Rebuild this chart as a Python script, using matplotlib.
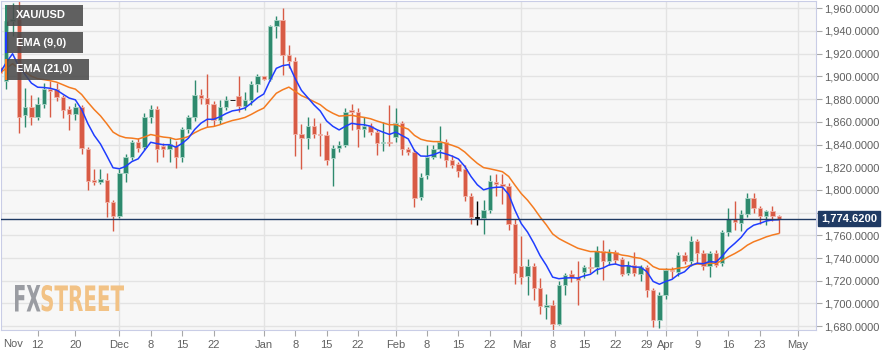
"""XAU/USD daily candles with EMA(9) and EMA(21), FXStreet style."""

import matplotlib

matplotlib.use("Agg")
import matplotlib.pyplot as plt
import pandas as pd
from matplotlib.font_manager import FontProperties
from matplotlib.patches import PathPatch, Rectangle
from matplotlib.textpath import TextPath
from matplotlib.transforms import Affine2D, blended_transform_factory

W, H = 887, 357

# daily OHLC, 2020-11-04 .. 2021-04-28 (Apr 2 not on the axis)
opens = [
    1908, 1896, 1949, 1951, 1866, 1873, 1864, 1876, 1889, 1889,
    1882, 1871, 1867, 1873, 1836, 1809, 1807, 1809, 1789, 1777,
    1815, 1829, 1842, 1838, 1864, 1871, 1839, 1836, 1839, 1829,
    1854, 1864, 1884, 1881, 1876, 1862, 1873, 1879, 1883, 1874,
    1879, 1893, 1900, 1898, 1944, 1950, 1919, 1914, 1849, 1846,
    1856, 1849, 1848, 1828, 1837, 1840, 1870, 1869, 1854, 1856,
    1851, 1841, 1842, 1847, 1859, 1836, 1833, 1794, 1813, 1829,
    1836, 1842, 1826, 1823, 1818, 1795, 1775.5, 1775, 1782, 1807,
    1805, 1803, 1770, 1733, 1724, 1733, 1714, 1697, 1699, 1682,
    1716, 1725.5, 1723, 1728, 1732.4, 1732, 1746, 1737, 1745, 1739,
    1727, 1734, 1726, 1732, 1712, 1685, 1707, 1729.5, 1728, 1743,
    1737.6, 1755, 1744, 1733, 1744.6, 1736, 1763, 1774, 1771, 1779,
    1793, 1784, 1777, 1781, 1777,
]
highs = [
    1946, 1951, 1965, 1966, 1890, 1884, 1882, 1894, 1896, 1894,
    1884, 1874, 1877, 1875, 1838, 1818, 1818, 1815, 1791, 1818,
    1832, 1844, 1846, 1868, 1875, 1874, 1841, 1847, 1843, 1855,
    1866, 1897, 1889, 1902, 1878, 1879, 1883, 1879, 1900, 1886,
    1896, 1902, 1900, 1945, 1953, 1960, 1928, 1917, 1858, 1864,
    1863, 1859, 1852, 1840, 1843, 1872, 1876, 1872, 1864, 1859,
    1853, 1860, 1875, 1872, 1861, 1838, 1836, 1815, 1840, 1840,
    1856, 1845, 1831, 1825, 1822, 1797, 1790, 1791, 1813, 1814,
    1814, 1806, 1774, 1759, 1739, 1736, 1722, 1708, 1703, 1720,
    1727, 1729, 1737, 1734, 1741, 1751, 1756, 1748, 1747, 1741,
    1737, 1745, 1734, 1734, 1714, 1710, 1731, 1732, 1745, 1745,
    1759, 1757, 1747, 1746, 1747, 1765, 1784, 1790, 1782, 1797.5,
    1797, 1786, 1782.5, 1786, 1777.5,
]
lows = [
    1881, 1889, 1936, 1850, 1855, 1857, 1862, 1872, 1864, 1878,
    1863, 1853, 1862, 1832, 1800, 1804, 1805, 1776, 1764, 1775,
    1807, 1826, 1833, 1835, 1859, 1825, 1829, 1825, 1819, 1825,
    1850, 1861, 1876, 1855, 1856, 1858, 1870, 1879, 1869, 1870,
    1875, 1886, 1897, 1896, 1934, 1901, 1907, 1830, 1818, 1836,
    1846, 1830, 1822, 1803, 1833, 1838, 1853, 1838, 1847, 1848,
    1831, 1834, 1839, 1842, 1831, 1831, 1785, 1791, 1810, 1827,
    1828, 1820, 1819, 1811, 1790, 1770, 1769, 1761, 1780, 1795,
    1788, 1765, 1717, 1717, 1707, 1703, 1691, 1686, 1677, 1681,
    1707, 1719, 1699, 1722, 1727, 1726, 1721, 1734, 1735, 1724,
    1725, 1724, 1720, 1706, 1679, 1678, 1704, 1722, 1724, 1735,
    1733, 1736, 1729, 1723, 1732, 1733, 1759, 1765, 1764, 1776,
    1780, 1770, 1769, 1773, 1762,
]
closes = [
    1903, 1949, 1951, 1864, 1873, 1864, 1876, 1889, 1887, 1882,
    1870, 1867, 1873, 1837, 1808, 1807, 1810, 1789, 1777, 1815,
    1829, 1842, 1837, 1864, 1871, 1836, 1836, 1840, 1829, 1854,
    1864, 1884, 1881, 1876, 1862, 1873, 1879, 1879, 1874, 1879,
    1893, 1900, 1898, 1944, 1950, 1919, 1914, 1849, 1846, 1856,
    1849, 1848, 1826, 1837, 1840, 1869, 1869, 1854, 1856, 1851,
    1841, 1842, 1841, 1859, 1836, 1833, 1793, 1811, 1829, 1836,
    1842, 1826, 1822, 1817, 1795, 1776, 1775.5, 1782, 1808, 1805,
    1803, 1770, 1727, 1723, 1733, 1714, 1698, 1699, 1682, 1716,
    1725, 1723.5, 1721, 1732, 1731, 1746, 1737, 1745, 1738, 1726,
    1734, 1727, 1732, 1712, 1685, 1707, 1729, 1728.5, 1742.6, 1737.6,
    1755, 1744, 1733, 1744.6, 1734, 1763, 1774, 1772, 1779, 1793,
    1784, 1777, 1781, 1777, 1774.62,
]
last_price = 1774.62

tick_dates = [
    "2020-11-12", "2020-11-20", "2020-12-01", "2020-12-08", "2020-12-15",
    "2020-12-22", "2021-01-01", "2021-01-08", "2021-01-15", "2021-01-22",
    "2021-02-01", "2021-02-08", "2021-02-15", "2021-02-22", "2021-03-01",
    "2021-03-08", "2021-03-15", "2021-03-22", "2021-03-29", "2021-04-01",
    "2021-04-09", "2021-04-16", "2021-04-23", "2021-05-03",
]
tick_labels = [
    "12", "20", "Dec", "8", "15", "22", "Jan", "8", "15", "22",
    "Feb", "8", "15", "22", "Mar", "8", "15", "22", "29", "Apr",
    "9", "16", "23", "May",
]
month_lines = ["2020-12-01", "2021-01-01", "2021-02-01", "2021-03-01",
               "2021-04-01", "2021-05-03"]
y_ticks = list(range(1680, 1961, 20))

GREEN = "#2e8a6e"
RED = "#d85b45"
BLUE = "#1f3dff"
ORANGE = "#f47b20"
NAVY = "#1f3a63"
GRID = "#e3e3e3"
FRAME = "#c9cde6"
TEXT = "#606060"


def fig_rect(fig, x0, y0, x1, y1, **kw):
    """Rectangle given in figure pixels (origin top-left)."""
    r = Rectangle((x0 / W, 1 - y1 / H), (x1 - x0) / W, (y1 - y0) / H,
                  transform=fig.transFigure, **kw)
    fig.add_artist(r)


def logo_part(ax, text, x0, x1, y_top, y_bot, color):
    fp = FontProperties(family="DejaVu Sans", weight="bold")
    tp = TextPath((0, 0), text, size=10, prop=fp)
    bb = tp.get_extents()
    tr = (Affine2D().translate(-bb.x0, -bb.y0)
          .scale((x1 - x0) / bb.width, (y_bot - y_top) / bb.height)
          .translate(x0, H - y_bot))
    ax.add_patch(PathPatch(tp, transform=tr, fc=color, lw=0, zorder=1))


def main() -> None:
    plt.rcParams["font.family"] = ["Liberation Sans", "DejaVu Sans"]

    dates = pd.bdate_range("2020-11-04", "2021-05-03")
    dates = dates[dates != pd.Timestamp("2021-04-02")]
    pos = {d: i for i, d in enumerate(dates)}

    df = pd.DataFrame({"open": opens, "high": highs, "low": lows, "close": closes})
    df["x"] = range(len(df))
    ema9 = df["close"].ewm(span=9, adjust=False).mean()
    ema21 = df["close"].ewm(span=21, adjust=False).mean()

    fig = plt.figure(figsize=(W / 100, H / 100), dpi=100)
    fig.patch.set_facecolor("white")
    ax = fig.add_axes([1 / W, 27 / H, 815 / W, 329 / H])
    ax.set_facecolor("#f7f7f7")

    step = 6.28  # pixels per trading day
    ax.set_xlim(1 / step, 816 / step)
    ax.set_ylim(1960 - (330 - 8.3) / 1.135, 1960 + (8.3 - 1) / 1.135)

    # the 1,780 label sits behind the last-price tag
    ax.set_yticks(y_ticks)
    ax.set_yticklabels(["" if v == 1780 else f"{v:,.4f}" for v in y_ticks])
    ax.yaxis.tick_right()
    ax.grid(axis="y", color=GRID, lw=1)
    for d in month_lines:
        ax.axvline(pos[pd.Timestamp(d)], color=GRID, lw=1, zorder=0.5)
    ax.set_axisbelow(True)

    ax.set_xticks([pos[pd.Timestamp(d)] for d in tick_dates])
    ax.set_xticklabels(tick_labels)
    ax.tick_params(axis="x", length=4, color="#a8a8a8", labelcolor=TEXT,
                   labelsize=8, pad=3.5)
    ax.tick_params(axis="y", length=4, color="#a8a8a8", labelcolor=TEXT,
                   labelsize=8, pad=2)
    ax.text(0.002, -0.043, "Nov", transform=ax.transAxes, ha="left",
            va="center", fontsize=8, color=TEXT)
    for spine in ax.spines.values():
        spine.set_color(FRAME)

    # watermark
    logo_part(ax, "FX", 15, 40.5, 285, 311.5, "#9a9ca2")
    logo_part(ax, "STREET", 41.5, 124, 285, 311.5, "#f2c285")

    # candles
    for _, row in df.iterrows():
        o, c = row["open"], row["close"]
        if c > o:
            fc, ec = GREEN, "#a9d4c6"
        elif c < o:
            fc, ec = RED, "#f0b3a8"
        else:
            fc, ec = "black", "black"
        ax.vlines(row["x"], row["low"], row["high"], color=fc, lw=1, zorder=2)
        ax.bar(row["x"], max(abs(c - o), 0.4), bottom=min(o, c), width=0.7,
               color=fc, edgecolor=ec, linewidth=0.6, zorder=3)

    ax.plot(df["x"], ema21, color=ORANGE, lw=1.1, zorder=4)
    ax.plot(df["x"], ema9, color=BLUE, lw=1.1, zorder=4)

    # last price line and tag
    ax.axhline(last_price, color=NAVY, lw=1, zorder=5)
    trans = blended_transform_factory(ax.transAxes, ax.transData)
    ax.annotate(f"{last_price:,.4f}", xy=(1, last_price), xycoords=trans,
                xytext=(3.5, 0), textcoords="offset points", ha="left",
                va="center", color="white", fontsize=8, fontweight="bold",
                annotation_clip=False, zorder=10,
                bbox=dict(boxstyle="square,pad=0.25", fc=NAVY, ec=NAVY))

    # legend boxes
    legend = [("XAU/USD", GREEN, 5, 83), ("EMA (9,0)", BLUE, 32, 83),
              ("EMA (21,0)", ORANGE, 59, 89)]
    for label, color, top, right in legend:
        fig_rect(fig, 5, top, right, top + 21, fc="#4b4b4b", alpha=0.88,
                 lw=0, zorder=5)
        fig_rect(fig, 5, top, 7.5, top + 21, fc=color, lw=0, zorder=6)
        fig.text(16 / W, 1 - (top + 10.5) / H, label, ha="left", va="center",
                 color="white", fontsize=8, fontweight="bold", zorder=7)

    fig.savefig("out.png", dpi=100)
    plt.close(fig)


if __name__ == "__main__":
    main()
